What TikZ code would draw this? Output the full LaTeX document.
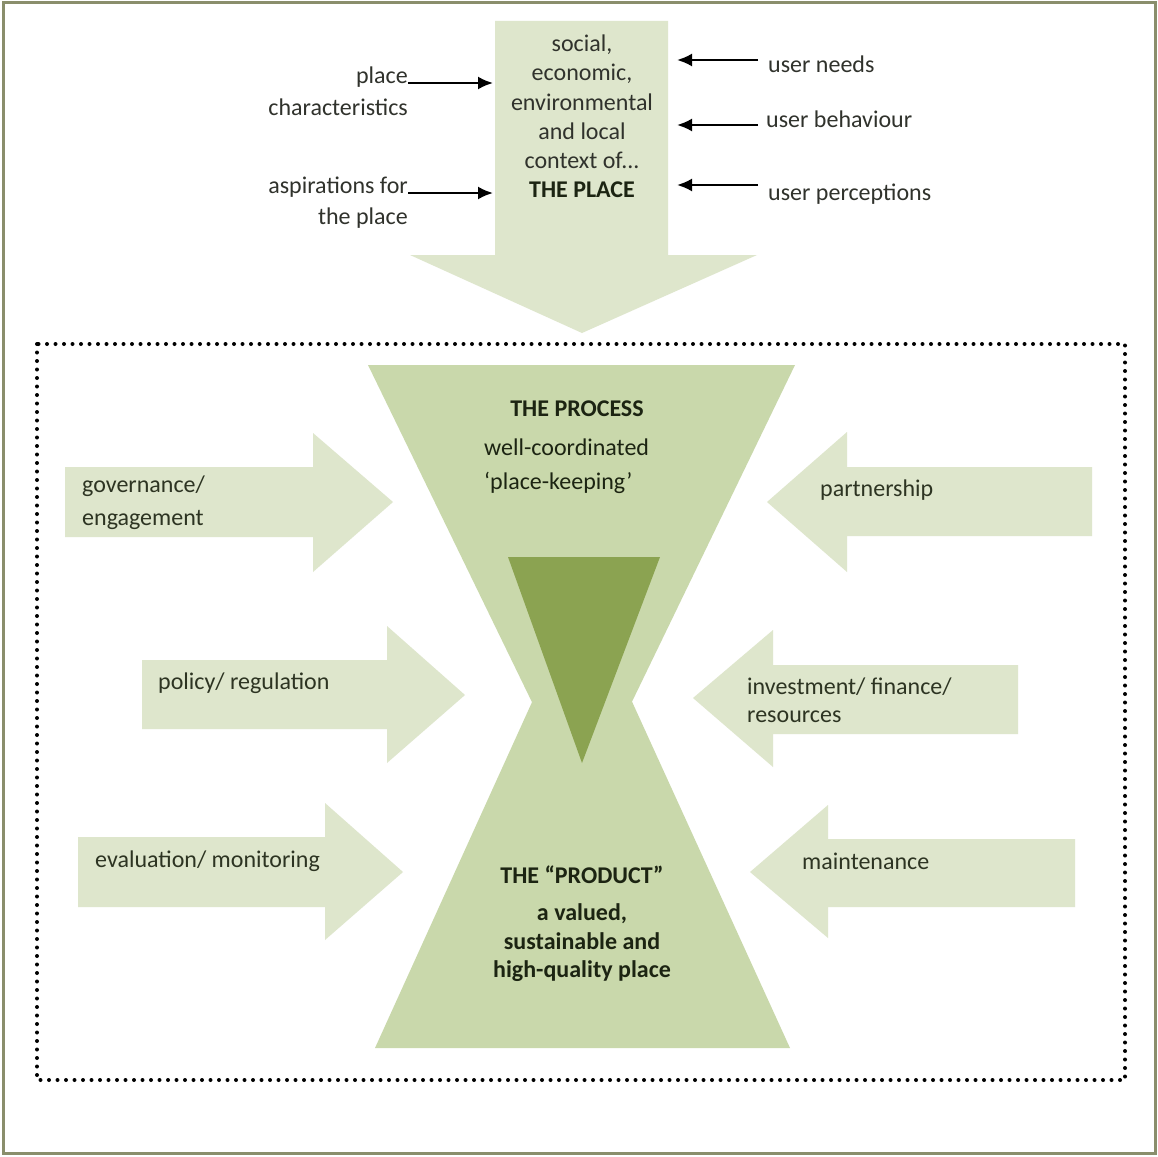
\documentclass[tikz,border=0pt]{standalone}
\usepackage{fontspec}
\setmainfont{Carlito}
\usetikzlibrary{arrows.meta}
\definecolor{shaftc}{RGB}{222,230,204}
\definecolor{glassc}{RGB}{201,216,171}
\definecolor{darkc}{RGB}{139,163,81}
\definecolor{borderc}{RGB}{138,142,108}
\definecolor{txtc}{RGB}{48,50,44}
\definecolor{arrtxt}{RGB}{45,52,34}
\definecolor{boldc}{RGB}{28,36,18}
\begin{document}
\begin{tikzpicture}[x=1pt,y=-1pt,
  lbl/.style={inner sep=0pt, font=\fontsize{24}{29}\selectfont, text=txtc},
  atx/.style={lbl, text=arrtxt},
  bl/.style={inner sep=0pt, font=\fontsize{24}{29}\selectfont\bfseries, text=boldc},
  ptr/.style={line width=2.2pt, draw=black, -{Latex[length=15pt,width=13pt]}},
  blockarrow/.style={fill=shaftc},
  glass/.style={fill=glassc}
]
\useasboundingbox (0,0) rectangle (1158,1156);
\fill[white] (0,0) rectangle (1158,1156);
\draw[line width=3pt, draw=borderc] (3,3) rectangle (1155,1153);

% top arrow (the place)
\fill[blockarrow] (495,21) -- (668,21) -- (668,255) -- (757,255) -- (582,333) -- (410,255) -- (495,255) -- cycle;

\node[lbl, anchor=base] (c1) at (582,52) {social,};
\node[lbl, anchor=base] (c2) at (582,81) {economic,};
\node[lbl, anchor=base] (c3) at (582,110) {environmental};
\node[lbl, anchor=base] (c4) at (582,139) {and local};
\node[lbl, anchor=base] (c5) at (582,168) {context of...};
\node[bl, anchor=base] (c6) at (582,197) {THE PLACE};

% left labels
\node[lbl, anchor=base east] (pl1) at (408,83) {place};
\node[lbl, anchor=base east] (pl2) at (408,115) {characteristics};
\node[lbl, anchor=base east] (as1) at (408,193) {aspirations for};
\node[lbl, anchor=base east] (as2) at (408,224) {the place};
\coordinate (t1) at (493,83);
\coordinate (t2) at (493,193);
\draw[ptr] (pl1.base east) -- (t1);
\draw[ptr] (as1.base east) -- (t2);

% right labels
\node[lbl, anchor=base west] (u1) at (768,73) {user needs};
\node[lbl, anchor=base west] (u2) at (766,127) {user behaviour};
\node[lbl, anchor=base west] (u3) at (768,200) {user perceptions};
\coordinate (s1) at (758,60);
\coordinate (s2) at (758,125);
\coordinate (s3) at (758,185);
\coordinate (e1) at (677,60);
\coordinate (e2) at (677,125);
\coordinate (e3) at (677,185);
\draw[ptr] (s1) -- (e1);
\draw[ptr] (s2) -- (e2);
\draw[ptr] (s3) -- (e3);

% dotted frame
\draw[line width=4pt, dash pattern=on 0pt off 8.5pt, line cap=round, draw=black] (37,344) rectangle (1125,1080);

% hourglass
\fill[glass] (368,365) -- (795,365) -- (582,805) -- cycle;
\fill[glass] (375,1048) -- (790,1048) -- (582,592) -- cycle;
\fill[darkc] (508,557) -- (660,557) -- (582,763) -- cycle;

\node[bl, anchor=base] (proc) at (577,416) {THE PROCESS};
\node[lbl, text=boldc, anchor=base west] (wc) at (484,455) {well-coordinated};
\node[lbl, text=boldc, anchor=base west] (pk) at (484,489) {‘place-keeping’};

\node[bl, anchor=base] (prod) at (582,883) {THE “PRODUCT”};
\node[bl, anchor=base] (pr1) at (582,920) {a valued,};
\node[bl, anchor=base] (pr2) at (582,949) {sustainable and};
\node[bl, anchor=base] (pr3) at (582,977) {high-quality place};

% left block arrows
\fill[blockarrow] (65,467) -- (313,467) -- (313,433) -- (393,502) -- (313,572) -- (313,537) -- (65,537) -- cycle;
\fill[blockarrow] (142,660) -- (387,660) -- (387,626) -- (465,695) -- (387,763) -- (387,729) -- (142,729) -- cycle;
\fill[blockarrow] (78,837) -- (325,837) -- (325,803) -- (403,872) -- (325,940) -- (325,907) -- (78,907) -- cycle;

\node[atx, anchor=base west] (g1) at (82,492) {governance/};
\node[atx, anchor=base west] (g2) at (82,525) {engagement};
\node[atx, anchor=base west] (po) at (158,689) {policy/ regulation};
\node[atx, anchor=base west] (ev) at (95,867) {evaluation/ monitoring};

% right block arrows
\fill[blockarrow] (1092,467) -- (847,467) -- (847,432) -- (767,502) -- (847,572) -- (847,536) -- (1092,536) -- cycle;
\fill[blockarrow] (1018,665) -- (773,665) -- (773,630) -- (693,698) -- (773,767) -- (773,734) -- (1018,734) -- cycle;
\fill[blockarrow] (1075,839) -- (828,839) -- (828,805) -- (750,872) -- (828,938) -- (828,907) -- (1075,907) -- cycle;

\node[atx, anchor=base west] (pa) at (820,496) {partnership};
\node[atx, anchor=base west] (in1) at (747,694) {investment/ finance/};
\node[atx, anchor=base west] (in2) at (747,722) {resources};
\node[atx, anchor=base west] (ma) at (802,869) {maintenance};
\end{tikzpicture}
\end{document}
